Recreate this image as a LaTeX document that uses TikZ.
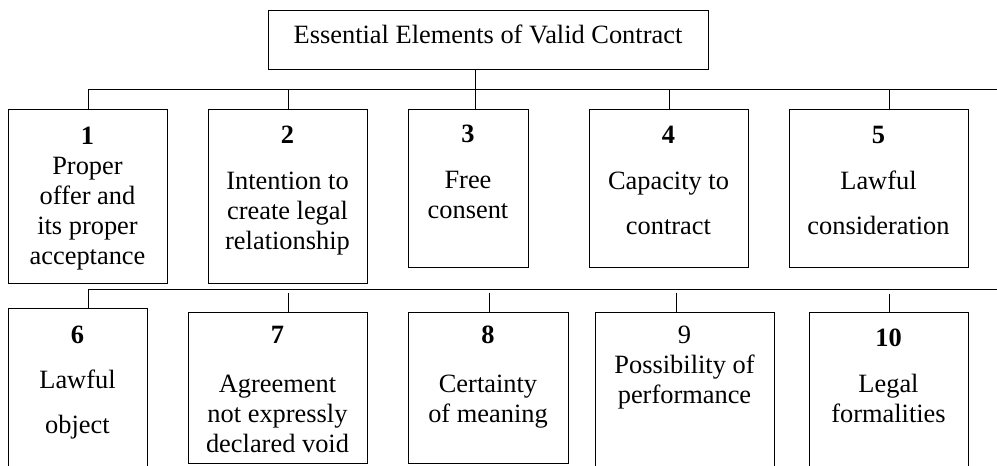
\documentclass[tikz,border=0pt]{standalone}
\usepackage{fontspec}
\setmainfont{Liberation Serif}
\begin{document}
\begin{tikzpicture}[x=1pt,y=-1pt,
  every node/.style={inner sep=0pt, outer sep=0pt},
  elembox/.style={draw, line width=1pt, anchor=north west},
  elemtext/.style={anchor=base, align=center, font=\fontsize{26.4}{30}\selectfont},
  link/.style={line width=1pt},
  busline/.style={line width=1.7pt}]
\path[use as bounding box, clip] (0,0) rectangle (997,466);

% heading
\node[draw, line width=1pt, minimum width=440pt, minimum height=59pt,
      text height=18pt, text depth=11pt, font=\fontsize{26.4}{30}\selectfont]
  (title) at (488,39.5) {Essential Elements of Valid Contract};

% first row of boxes
\node[elembox, minimum width=159pt, minimum height=174pt] (b1) at (8,109) {};
\node[elembox, minimum width=159pt, minimum height=174pt] (b2) at (208,109) {};
\node[elembox, minimum width=120pt, minimum height=158pt] (b3) at (408,109) {};
\node[elembox, minimum width=159pt, minimum height=158pt] (b4) at (589,109) {};
\node[elembox, minimum width=179pt, minimum height=158pt] (b5) at (789,109) {};

% second row of boxes (some run past the lower edge)
\node[elembox, minimum width=139pt, minimum height=180pt] (b6) at (8,308) {};
\node[elembox, minimum width=179pt, minimum height=151pt] (b7) at (188,312) {};
\node[elembox, minimum width=160pt, minimum height=151pt] (b8) at (408,312) {};
\node[elembox, minimum width=179pt, minimum height=180pt] (b9) at (595,312) {};
\node[elembox, minimum width=159pt, minimum height=180pt] (b10) at (809,312) {};

% texts (anchored on the baseline of the last line)
\node[elemtext] (t1) at (87.5,264) {\textbf{1}\\Proper\\offer and\\its proper\\acceptance};
\node[elemtext] (t2) at (287.5,249) {\textbf{2}\\[16pt]Intention to\\create legal\\relationship};
\node[elemtext] (t3) at (468,218) {\textbf{3}\\[16pt]Free\\consent};
\node[elemtext] (t4) at (668.5,234) {\textbf{4}\\[16pt]Capacity to\\[15pt]contract};
\node[elemtext] (t5) at (878.5,234) {\textbf{5}\\[16pt]Lawful\\[15pt]consideration};
\node[elemtext] (t6) at (77.5,433) {\textbf{6}\\[15pt]Lawful\\[15pt]object};
\node[elemtext] (t7) at (277.5,452) {\textbf{7}\\[19pt]Agreement\\not expressly\\declared void};
\node[elemtext] (t8) at (488,422) {\textbf{8}\\[19pt]Certainty\\of meaning};
\node[elemtext] (t9) at (684.5,403) {9\\Possibility of\\performance};
\node[elemtext] (t10) at (888.5,422) {\textbf{10}\\[16pt]Legal\\formalities};

% upper bus and stems
\coordinate (s1) at (88,89);
\coordinate (s2) at (288,89);
\coordinate (s3) at (475,89);
\coordinate (s4) at (669,89);
\coordinate (s5) at (889,89);
\coordinate (busR) at (997,89);
\draw[link] (title.south -| s3) -- (s3);
\draw[link] (s1) -- (busR);
\foreach \i in {1,...,5} \draw[link] (s\i) -- (s\i |- b\i.north);

% lower bus and stems
\coordinate (r6) at (88,289.5);
\coordinate (r7) at (288,292.5);
\coordinate (r8) at (489,292.5);
\coordinate (r9) at (676,292.5);
\coordinate (r10) at (889,293.5);
\coordinate (lowR) at (997,289.5);
\draw[busline] (r6) -- (lowR);
\foreach \i in {6,...,10} \draw[link] (r\i) -- (r\i |- b\i.north);
\end{tikzpicture}
\end{document}
